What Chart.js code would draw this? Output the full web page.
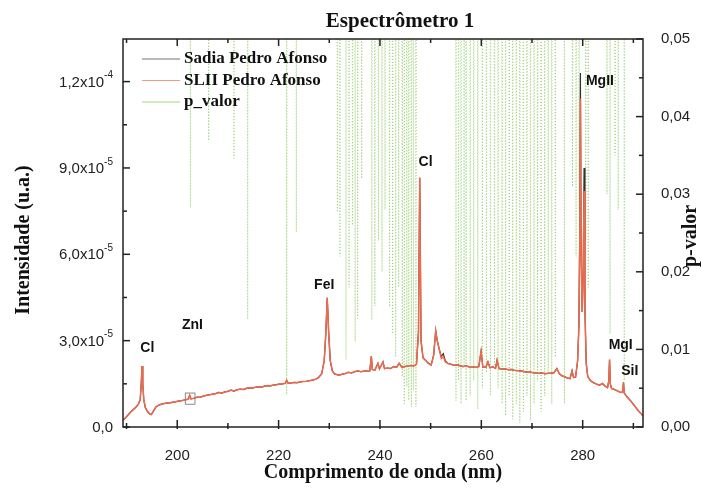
<!DOCTYPE html>
<html lang="pt">
<head>
<meta charset="UTF-8">
<title>Espectrômetro 1</title>
<style>
  body { margin: 0; background: #fff; }
  canvas { display: block; }
</style>
</head>
<body>
<canvas id="grafico" width="701" height="489"></canvas>

<script src="https://cdn.jsdelivr.net/npm/chart.js"></script>

<script>
// comprimento de onda (nm)
var onda = [
    189.3, 189.8, 190.3, 190.8, 191.3, 191.8, 192.3, 192.7, 192.9, 193.05,
    193.2, 193.4, 193.7, 194.2, 194.6, 194.9, 195.3, 195.8, 196.5, 197.2,
    198.0, 198.8, 199.5, 200.3, 201.0, 201.7, 202.2, 202.45, 202.7, 203.3,
    204.0, 204.6, 205.2, 205.8, 206.4, 207.0, 207.6, 208.2, 208.8, 209.4,
    210.0, 210.6, 211.2, 211.8, 212.4, 213.0, 213.6, 214.2, 214.8, 215.4,
    216.0, 216.6, 217.2, 217.8, 218.4, 219.0, 219.6, 220.2, 220.8, 221.3,
    221.6, 221.9, 222.5, 223.1, 223.7, 224.3, 224.9, 225.5, 226.1, 226.7,
    227.3, 227.9, 228.5, 229.0, 229.3, 229.6, 229.9, 230.2, 230.6, 231.0,
    231.5, 232.0, 232.6, 233.2, 233.8, 234.4, 235.0, 235.6, 236.2, 236.8,
    237.4, 238.0, 238.3, 238.5, 239.0, 239.6, 239.9, 240.6, 240.9, 241.5,
    242.1, 242.7, 243.3, 243.8, 244.3, 244.9, 245.5, 246.1, 246.7, 247.2,
    247.6, 247.85, 248.1, 248.5, 249.0, 249.5, 250.1, 250.6, 251.0, 251.3,
    251.7, 252.1, 252.5, 252.9, 253.4, 254.0, 254.6, 255.2, 255.8, 256.4,
    257.0, 257.6, 258.3, 258.9, 259.5, 259.95, 260.3, 260.9, 261.3, 261.7,
    262.3, 262.8, 263.1, 263.5, 264.1, 264.7, 265.3, 265.9, 266.5, 267.1,
    267.7, 268.3, 268.9, 269.5, 270.1, 270.7, 271.3, 271.9, 272.5, 273.1,
    273.7, 274.3, 274.9, 275.4, 275.9, 276.5, 277.0, 277.5, 277.9, 278.2,
    278.6, 279.0, 279.25, 279.45, 279.55, 279.7, 279.9, 280.1, 280.27, 280.45,
    280.7, 281.0, 281.5, 282.0, 282.6, 283.3, 283.9, 284.4, 284.9, 285.15,
    285.3, 285.45, 285.7, 286.3, 286.9, 287.5, 287.9, 288.05, 288.2, 288.5,
    289.0, 289.5, 289.9, 290.4, 290.8, 291.2, 291.6, 291.9
];

// intensidade SLII (x10^-5 u.a.)
var slii = [
    0.23, 0.32, 0.42, 0.52, 0.60, 0.68, 0.78, 0.95, 1.5, 2.12,
    1.5, 0.95, 0.68, 0.52, 0.45, 0.43, 0.55, 0.70, 0.77, 0.81,
    0.83, 0.85, 0.87, 0.90, 0.92, 0.95, 0.97, 1.10, 0.98, 1.00,
    1.04, 1.03, 1.08, 1.10, 1.12, 1.14, 1.16, 1.20, 1.18, 1.22,
    1.24, 1.28, 1.25, 1.29, 1.32, 1.30, 1.34, 1.36, 1.35, 1.38,
    1.40, 1.38, 1.42, 1.44, 1.43, 1.46, 1.47, 1.49, 1.50, 1.52,
    1.62, 1.52, 1.53, 1.55, 1.54, 1.57, 1.58, 1.59, 1.61, 1.63,
    1.66, 1.72, 1.85, 2.3, 3.2, 4.49, 3.2, 2.3, 1.95, 1.85,
    1.82, 1.80, 1.84, 1.86, 1.90, 1.88, 1.92, 1.95, 1.92, 1.94,
    1.96, 1.95, 2.46, 2.0, 1.98, 2.21, 2.02, 2.26, 2.03, 2.05,
    2.03, 2.10, 2.08, 2.21, 2.08, 2.10, 2.12, 2.14, 2.12, 2.18,
    3.3, 8.66, 3.0, 2.4, 2.32, 2.22, 2.15, 2.5, 3.34, 3.0,
    2.7, 2.38, 2.44, 2.26, 2.21, 2.18, 2.14, 2.16, 2.13, 2.10,
    2.12, 2.09, 2.09, 2.07, 2.10, 2.63, 2.09, 2.08, 2.26, 2.06,
    2.09, 2.04, 2.32, 2.03, 2.01, 2.02, 1.99, 2.00, 1.97, 1.96,
    1.95, 1.93, 1.91, 1.92, 1.89, 1.88, 1.86, 1.88, 1.85, 1.86,
    1.87, 1.88, 2.03, 1.85, 1.78, 1.74, 1.70, 1.68, 1.95, 1.72,
    1.74, 2.3, 3.5, 7.0, 11.4, 6.0, 4.0, 5.0, 8.2, 4.0,
    2.2, 1.75, 1.62, 1.55, 1.50, 1.45, 1.51, 1.42, 1.37, 1.6,
    2.34, 1.5, 1.34, 1.30, 1.25, 1.20, 1.22, 1.55, 1.18, 1.10,
    1.00, 0.90, 0.81, 0.70, 0.60, 0.52, 0.45, 0.38
];

// intensidade Sadia (x10^-5 u.a.)
var sadia = [
    0.23, 0.32, 0.42, 0.52, 0.60, 0.68, 0.78, 0.95, 1.5, 2.12,
    1.5, 0.95, 0.68, 0.52, 0.45, 0.43, 0.55, 0.70, 0.77, 0.81,
    0.83, 0.85, 0.87, 0.90, 0.92, 0.95, 0.97, 1.10, 0.98, 1.00,
    1.04, 1.03, 1.08, 1.10, 1.12, 1.14, 1.16, 1.20, 1.18, 1.22,
    1.24, 1.28, 1.25, 1.29, 1.32, 1.30, 1.34, 1.36, 1.35, 1.38,
    1.40, 1.38, 1.42, 1.44, 1.43, 1.46, 1.47, 1.49, 1.50, 1.52,
    1.62, 1.52, 1.53, 1.55, 1.54, 1.57, 1.58, 1.59, 1.61, 1.63,
    1.66, 1.72, 1.85, 2.3, 3.2, 4.49, 3.2, 2.3, 1.95, 1.85,
    1.82, 1.80, 1.84, 1.86, 1.90, 1.88, 1.92, 1.95, 1.92, 1.94,
    1.96, 1.95, 2.46, 2.0, 1.98, 2.21, 2.02, 2.26, 2.03, 2.05,
    2.03, 2.10, 2.08, 2.21, 2.08, 2.10, 2.12, 2.14, 2.12, 2.18,
    3.3, 8.66, 3.0, 2.4, 2.32, 2.22, 2.15, 2.5, 3.34, 3.0,
    2.7, 2.45, 2.55, 2.30, 2.21, 2.18, 2.14, 2.16, 2.13, 2.10,
    2.12, 2.09, 2.09, 2.07, 2.10, 2.63, 2.09, 2.08, 2.26, 2.06,
    2.09, 2.04, 2.32, 2.03, 2.01, 2.02, 1.99, 2.00, 1.97, 1.96,
    1.95, 1.93, 1.91, 1.92, 1.89, 1.88, 1.86, 1.88, 1.85, 1.86,
    1.87, 1.88, 2.03, 1.85, 1.78, 1.74, 1.70, 1.68, 1.95, 1.72,
    1.74, 2.3, 3.5, 7.4, 12.3, 6.0, 4.0, 5.4, 9.0, 4.0,
    2.2, 1.75, 1.62, 1.55, 1.50, 1.45, 1.51, 1.42, 1.37, 1.6,
    2.34, 1.5, 1.34, 1.30, 1.25, 1.20, 1.22, 1.55, 1.18, 1.10,
    1.00, 0.90, 0.81, 0.70, 0.60, 0.52, 0.45, 0.38
];

// p-valor: onde a curva desce abaixo de 0,05 e o minimo de cada queda
var pOnda = [
    202.6, 206.2, 211.2, 213.9, 221.6, 223.5, 231.6, 232.1, 233.3, 233.9,
    234.6, 235.1, 235.6, 236.4, 238.4, 239.0, 239.7, 240.4, 241.0, 241.9,
    242.5, 243.1, 243.7, 244.4, 244.8, 245.3, 245.7, 246.2, 246.6, 247.1,
    255.0, 255.5, 256.0, 256.6, 257.0, 257.8, 258.5, 259.3, 260.2, 261.0,
    261.8, 262.6, 263.3, 264.1, 264.8, 265.5, 266.2, 266.9, 267.6, 268.3,
    269.0, 269.7, 270.4, 271.1, 271.8, 272.5, 273.2, 273.9, 274.6, 276.4,
    278.0, 278.7, 279.3, 280.6, 281.1, 284.8, 285.4, 286.4, 287.0, 288.2
];
var pMin = [
    0.0283, 0.0369, 0.0346, 0.0139, 0.0042, 0.0251, 0.0277, 0.022, 0.0087, 0.018,
    0.026, 0.011, 0.014, 0.032, 0.0138, 0.0156, 0.024, 0.020, 0.028, 0.0155,
    0.012, 0.009, 0.018, 0.0065, 0.003, 0.0052, 0.0034, 0.0026, 0.0047, 0.0026,
    0.0034, 0.006, 0.003, 0.008, 0.0034, 0.004, 0.006, 0.0023, 0.005, 0.007,
    0.004, 0.008, 0.005, 0.003, 0.0015, 0.004, 0.001, 0.003, 0.0005, 0.002,
    0.004, 0.0008, 0.003, 0.006, 0.002, 0.004, 0.007, 0.003, 0.009, 0.003,
    0.031, 0.022, 0.028, 0.024, 0.018, 0.03, 0.012, 0.035, 0.028, 0.006
];
var pFora = 0.06; // valor acima do topo da escala

// eixos
var xTicks = [200, 220, 240, 260, 280];
var xMenores = [190, 210, 230, 250, 270, 290];
var yTicks = [0, 3, 6, 9, 12];
var yMantissa = ['0,0', '3,0x10', '6,0x10', '9,0x10', '1,2x10'];
var yExpoente = ['', '-5', '-5', '-5', '-4'];
var yMenores = [1.5, 4.5, 7.5, 10.5];
var pTicks = [0, 0.01, 0.02, 0.03, 0.04, 0.05];
var pMenores = [0.005, 0.015, 0.025, 0.035, 0.045];

// picos identificados
var picos = ['Cl', 'ZnI', 'FeI', 'Cl', 'MgII', 'MgI', 'SiI'];
var picoOnda = [194.1, 203.0, 229.0, 249.0, 283.4, 287.5, 289.3];
var picoInt = [2.74, 3.54, 4.93, 9.21, 12.0, 2.84, 1.94];

var corSadia = '#333333';
var corSlii = '#ef6a4c';
var corP = 'rgba(140, 200, 95, 0.8)';

function pares(xs, ys) {
    return xs.map(function (v, i) { return { x: v, y: ys[i] }; });
}

var pPontos = [];
pOnda.forEach(function (nm, i) {
    pPontos.push({ x: nm - 0.07, y: pFora }, { x: nm, y: pMin[i] }, { x: nm + 0.07, y: pFora });
});

var serif = '"Liberation Serif", "Times New Roman", serif';
var sans = '"Liberation Sans", Arial, sans-serif';

var extras = {
    id: 'extras',
    afterDraw: function (chart) {
        var ctx = chart.ctx, a = chart.chartArea;
        var sx = chart.scales.x, sy = chart.scales.y, sp = chart.scales.p;
        ctx.save();

        // caixa ZnI
        ctx.strokeStyle = '#8a8a8a';
        ctx.lineWidth = 1;
        var bx1 = sx.getPixelForValue(201.6), bx2 = sx.getPixelForValue(203.5);
        var by1 = sy.getPixelForValue(1.18), by2 = sy.getPixelForValue(0.79);
        ctx.strokeRect(bx1, by1, bx2 - bx1, by2 - by1);

        // moldura e marcas
        ctx.strokeStyle = '#222';
        ctx.lineWidth = 1.5;
        ctx.strokeRect(a.left, a.top, a.right - a.left, a.bottom - a.top);
        function linha(x1, y1, x2, y2) {
            ctx.beginPath(); ctx.moveTo(x1, y1); ctx.lineTo(x2, y2); ctx.stroke();
        }
        function marcaX(v, len) {
            var px = sx.getPixelForValue(v);
            linha(px, a.bottom + 2, px, a.bottom - len);
            linha(px, a.top, px, a.top + len);
        }
        xTicks.forEach(function (v) { marcaX(v, 7); });
        xMenores.forEach(function (v) { marcaX(v, 4); });
        yTicks.forEach(function (v) { var py = sy.getPixelForValue(v); linha(a.left, py, a.left + 7, py); });
        yMenores.forEach(function (v) { var py = sy.getPixelForValue(v); linha(a.left, py, a.left + 4, py); });
        pTicks.forEach(function (v) { var py = sp.getPixelForValue(v); linha(a.right, py, a.right - 7, py); });
        pMenores.forEach(function (v) { var py = sp.getPixelForValue(v); linha(a.right, py, a.right - 4, py); });

        // rotulos do eixo da intensidade com expoente
        ctx.fillStyle = '#222';
        ctx.textBaseline = 'middle';
        yTicks.forEach(function (v, i) {
            var py = sy.getPixelForValue(v) + 1;
            var fim = a.left - 10;
            ctx.textAlign = 'right';
            if (yExpoente[i]) {
                ctx.font = '10px ' + sans;
                ctx.fillText(yExpoente[i], fim, py - 7);
                fim -= ctx.measureText(yExpoente[i]).width;
            }
            ctx.font = '15px ' + sans;
            ctx.fillText(yMantissa[i], fim, py);
        });

        // titulo e titulos dos eixos
        ctx.fillStyle = '#111';
        ctx.textAlign = 'center';
        ctx.textBaseline = 'middle';
        ctx.font = 'bold 21px ' + serif;
        ctx.fillText('Espectrômetro 1', 400, 22);
        ctx.font = 'bold 20px ' + serif;
        ctx.fillText('Comprimento de onda (nm)', (a.left + a.right) / 2, 473);
        ctx.save();
        ctx.translate(24, 240);
        ctx.rotate(-Math.PI / 2);
        ctx.fillText('Intensidade (u.a.)', 0, 0);
        ctx.restore();
        ctx.save();
        ctx.translate(691, 236);
        ctx.rotate(-Math.PI / 2);
        ctx.fillText('p-valor', 0, 0);
        ctx.restore();

        // legenda
        ctx.textAlign = 'left';
        ctx.font = 'bold 17px ' + serif;
        chart.data.datasets.forEach(function (d, i) {
            var ly = 59 + i * 21.5;
            ctx.strokeStyle = d.corLegenda;
            ctx.lineWidth = 1.2;
            linha(a.left + 19, ly, a.left + 57, ly);
            ctx.fillStyle = '#111';
            ctx.fillText(d.label, a.left + 61, ly);
        });

        // rotulos dos picos
        ctx.textAlign = 'center';
        ctx.font = 'bold 14px ' + sans;
        picos.forEach(function (t, i) {
            ctx.fillText(t, sx.getPixelForValue(picoOnda[i]), sy.getPixelForValue(picoInt[i]));
        });
        ctx.restore();
    }
};

var grafico = new Chart(document.getElementById('grafico').getContext('2d'), {
    type: 'line',
    data: {
        datasets: [{
            label: 'Sadia Pedro Afonso',
            data: pares(onda, sadia),
            borderColor: corSadia,
            corLegenda: '#777',
            borderWidth: 1.2,
            yAxisID: 'y',
            order: 2
        }, {
            label: 'SLII Pedro Afonso',
            data: pares(onda, slii),
            borderColor: corSlii,
            corLegenda: '#f29a86',
            borderWidth: 1.5,
            yAxisID: 'y',
            order: 1
        }, {
            label: 'p_valor',
            data: pPontos,
            borderColor: corP,
            corLegenda: '#a6d67a',
            borderWidth: 1,
            borderDash: [1, 2],
            yAxisID: 'p',
            order: 3
        }]
    },
    options: {
        responsive: false,
        animation: false,
        layout: { padding: { top: 39, left: 0, right: 0, bottom: 0 } },
        elements: { point: { radius: 0 }, line: { tension: 0 } },
        plugins: { legend: { display: false }, title: { display: false }, tooltip: { enabled: false } },
        scales: {
            x: {
                type: 'linear',
                min: 189.3,
                max: 291.9,
                grid: { display: false },
                border: { display: false },
                afterBuildTicks: function (s) { s.ticks = xTicks.map(function (v) { return { value: v }; }); },
                afterFit: function (s) { s.height = 62; },
                ticks: { padding: 12, color: '#222', font: { family: sans, size: 15 } }
            },
            y: {
                position: 'left',
                min: 0,
                max: 13.48,
                grid: { display: false },
                border: { display: false },
                afterBuildTicks: function (s) { s.ticks = yTicks.map(function (v) { return { value: v }; }); },
                afterFit: function (s) { s.width = 123; },
                ticks: { display: false }
            },
            p: {
                position: 'right',
                min: 0,
                max: 0.05,
                grid: { display: false },
                border: { display: false },
                afterBuildTicks: function (s) { s.ticks = pTicks.map(function (v) { return { value: v }; }); },
                afterFit: function (s) { s.width = 58; },
                ticks: {
                    padding: 10, color: '#222', font: { family: sans, size: 15 },
                    callback: function (v) { return v.toFixed(2).replace('.', ','); }
                }
            }
        }
    },
    plugins: [extras]
});
</script>
</body>
</html>
